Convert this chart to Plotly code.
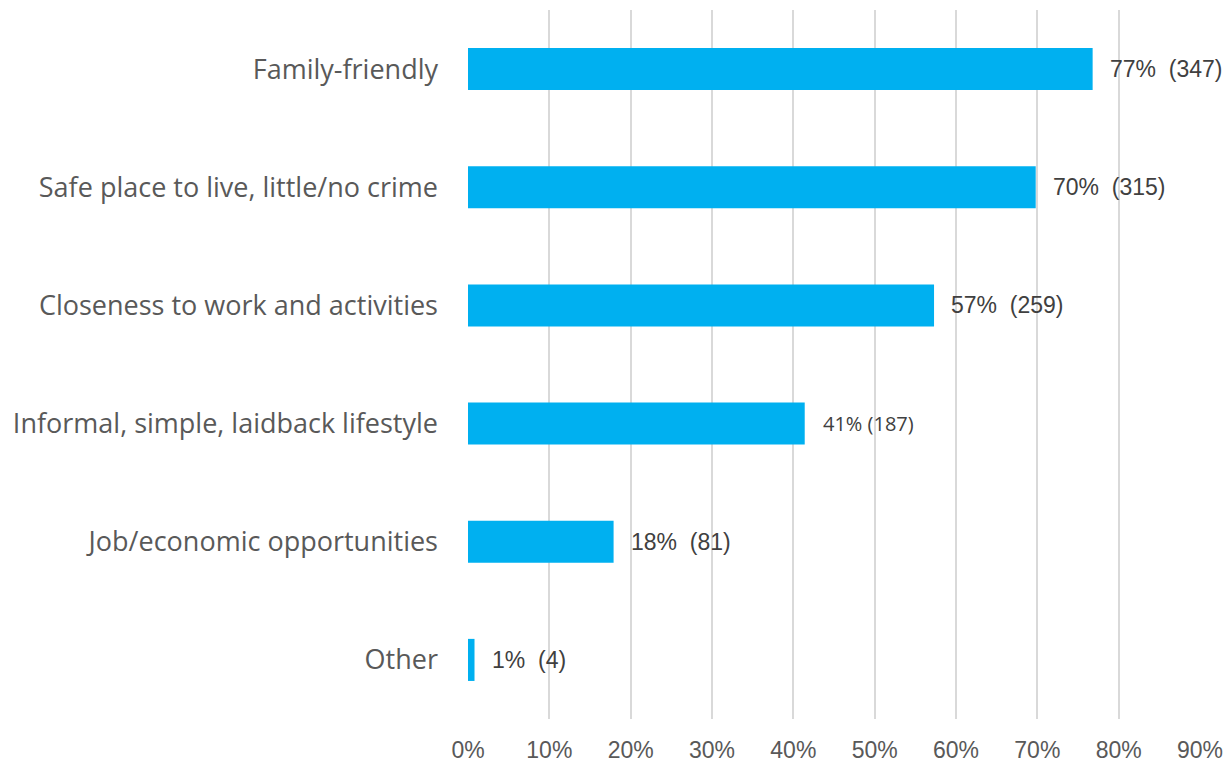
import plotly.graph_objects as go

categories = ["Family-friendly", "Safe place to live, little/no crime", "Closeness to work and activities",
              "Informal, simple, laidback lifestyle", "Job/economic opportunities", "Other"]
values = [76.8, 69.8, 57.3, 41.4, 17.9, 0.8]
pct_labels = ["77%", "70%", "57%", "41%", "18%", "1%"]
counts = [347, 315, 259, 187, 81, 4]
tick_vals = [0, 10, 20, 30, 40, 50, 60, 70, 80, 90]
tick_text = ["0%", "10%", "20%", "30%", "40%", "50%", "60%", "70%", "80%", "90%"]

fig = go.Figure()
fig.add_trace(go.Bar(
    y=categories, x=values, orientation="h",
    marker=dict(color="#00b0f0", line=dict(width=0)),
    width=0.356, hoverinfo="skip",
))

for cat, v, p, c in zip(categories, values, pct_labels, counts):
    special = cat.startswith("Informal")
    if special:
        txt = f"{p} ({c})"
        font = dict(family="Open Sans", size=20, color="#404040")
        shift = 16
    else:
        txt = f"{p}\u00a0 ({c})"
        font = dict(family="Liberation Sans, Arial", size=23, color="#404040")
        shift = 15
    fig.add_annotation(x=v, y=cat, xref="x", yref="y", text=txt, showarrow=False,
                       xanchor="left", yanchor="middle", xshift=shift, font=font)

fig.update_layout(
    width=1232, height=768,
    margin=dict(l=468, r=32, t=10, b=49),
    plot_bgcolor="white", paper_bgcolor="white",
    showlegend=False,
    xaxis=dict(range=[0, 90], tickvals=tick_vals, ticktext=tick_text,
               showgrid=True, gridcolor="#d9d9d9", gridwidth=2,
               zeroline=False, showline=False, automargin=False,
               tickfont=dict(family="Liberation Sans, Arial", size=23, color="#595959"),
               ticklabelstandoff=15),
    yaxis=dict(categoryorder="array", categoryarray=categories[::-1],
               showgrid=False, zeroline=False, showline=False, automargin=False,
               tickfont=dict(family="Open Sans", size=27, color="#595959"),
               ticklabelstandoff=29),
)

fig.write_html("out.html")
